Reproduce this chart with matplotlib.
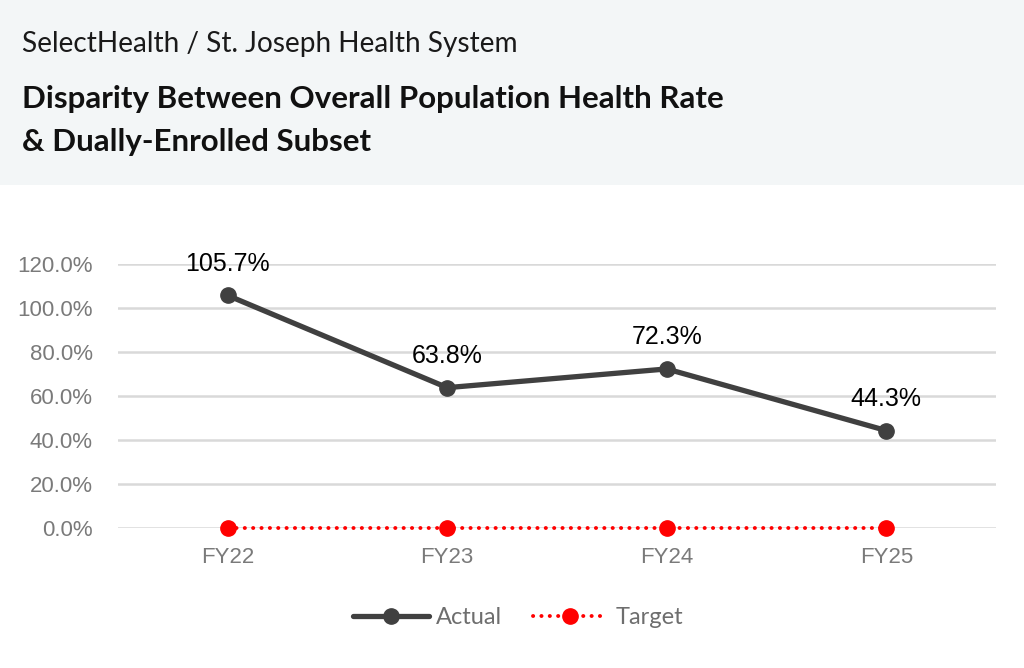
import matplotlib
matplotlib.use("Agg")
import matplotlib.pyplot as plt
from matplotlib.patches import Rectangle

years = ["FY22", "FY23", "FY24", "FY25"]
actual = [105.7, 63.8, 72.3, 44.3]
target = [0.0, 0.0, 0.0, 0.0]
yticks = [0, 20, 40, 60, 80, 100, 120]

W, H = 1024, 668
fig = plt.figure(figsize=(W / 100, H / 100), dpi=100)
fig.patch.set_facecolor("white")

# header band
fig.patches.append(Rectangle((0, 1 - 185 / H), 1, 185 / H, transform=fig.transFigure,
                             facecolor="#f3f6f7", edgecolor="none", zorder=0))
fig.text(22 / W, 1 - 44 / H, "SelectHealth / St. Joseph Health System", family="Lato",
         fontsize=20.2, color="#1a1a1a", va="center", ha="left")
fig.text(22 / W, 1 - 99 / H, "Disparity Between Overall Population Health Rate", family="Lato",
         fontsize=22.5, fontweight="bold", color="#111111", va="center", ha="left")
fig.text(22 / W, 1 - 142 / H, "& Dually-Enrolled Subset", family="Lato",
         fontsize=22.5, fontweight="bold", color="#111111", va="center", ha="left")

ax = fig.add_axes([118 / W, 1 - 528 / H, (996 - 118) / W, (528 - 264) / H])
x = list(range(len(years)))

ax.plot(x, actual, color="#404040", lw=3.8, marker="o", ms=11, label="Actual",
        clip_on=False, zorder=3, solid_capstyle="round")
ax.plot(x, target, color="#ff0000", lw=2.8, ls=(0, (0.05, 2.1)), marker="o", ms=11,
        label="Target", clip_on=False, zorder=4, dash_capstyle="round")

for xi, v in zip(x, actual):
    ax.annotate(f"{v:.1f}%", (xi, v), xytext=(0, 14), textcoords="offset points",
                ha="center", va="bottom", fontsize=18, family="Liberation Sans", color="black")

ax.set_xlim(-0.5, 3.5)
ax.set_ylim(0, 120)
ax.set_yticks(yticks)
ax.set_yticklabels([f"{t:.1f}%" for t in yticks])
ax.set_xticks(x)
ax.set_xticklabels(years)
for lab in ax.get_xticklabels() + ax.get_yticklabels():
    lab.set_family("Liberation Sans")
    lab.set_fontsize(16)
    lab.set_color("#7a7a7a")
ax.tick_params(length=0)
ax.tick_params(axis="y", pad=18)
ax.tick_params(axis="x", pad=14)
ax.grid(axis="y", color="#d9d9d9", lw=1.8)
ax.set_axisbelow(True)
for s in ax.spines.values():
    s.set_visible(False)

leg = fig.legend(loc="center", bbox_to_anchor=(518 / W, 1 - 618 / H), ncol=2, frameon=False,
                 prop={"family": "Lato", "size": 17}, handlelength=3.2, columnspacing=1.3,
                 handletextpad=0.3)
for t in leg.get_texts():
    t.set_color("#6e6e6e")

fig.savefig("out.png", dpi=100)
